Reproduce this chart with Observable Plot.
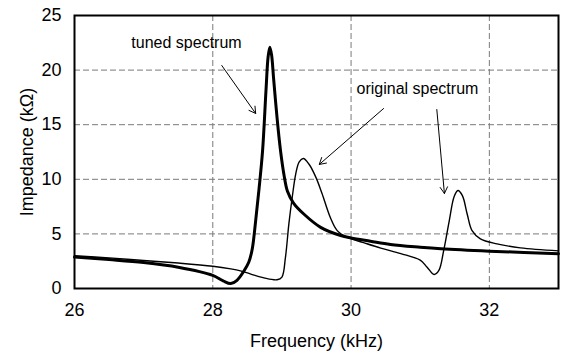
<!DOCTYPE html>
<html>
<head>
<meta charset="utf-8">
<script src="https://cdn.jsdelivr.net/npm/d3@7"></script>
<script src="https://cdn.jsdelivr.net/npm/@observablehq/plot@0.6"></script>
<style>
  html, body { margin: 0; padding: 0; background: #fff; }
  #chart svg { display: block; font-family: "Liberation Sans", Arial, Helvetica, sans-serif; }
</style>
</head>
<body>
<div id="chart"></div>
<script>
// Tuned spectrum (thick line)
const tunedFreq = [26.0, 26.5, 27.0, 27.5, 28.0, 28.15, 28.26, 28.35, 28.45, 28.52, 28.57, 28.62, 28.67, 28.72, 28.77, 28.80, 28.825, 28.85, 28.88, 28.93, 28.98, 29.03, 29.08, 29.17, 29.32, 29.56, 29.85, 30.0, 30.28, 30.57, 31.0, 31.3, 32.0, 32.5, 33.0];
const tunedImp  = [2.88, 2.65, 2.38, 1.95, 1.2, 0.7, 0.45, 0.75, 1.6, 2.4, 3.6, 6.2, 9.2, 12.6, 18.2, 21.2, 22.1, 21.4, 19.2, 15.6, 12.6, 10.4, 8.9, 7.8, 6.8, 5.6, 4.85, 4.63, 4.33, 4.03, 3.78, 3.64, 3.42, 3.3, 3.18];

// Original spectrum (thin line)
const origFreq = [26.0, 26.5, 27.0, 27.5, 28.0, 28.26, 28.4, 28.55, 28.74, 28.93, 29.0, 29.05, 29.1, 29.15, 29.2, 29.25, 29.31, 29.39, 29.49, 29.58, 29.70, 29.80, 29.94, 30.18, 30.43, 30.72, 31.0, 31.1, 31.2, 31.27, 31.34, 31.42, 31.49, 31.545, 31.61, 31.68, 31.75, 31.87, 32.11, 32.45, 33.0];
const origImp  = [3.0, 2.8, 2.56, 2.33, 2.04, 1.8, 1.62, 1.32, 0.97, 0.8, 1.05, 2.8, 5.9, 8.4, 10.5, 11.6, 11.9, 11.4, 10.2, 8.7, 6.5, 5.3, 4.7, 4.2, 3.7, 3.2, 2.6, 1.95, 1.28, 1.65, 3.5, 6.2, 8.4, 8.97, 8.5, 6.8, 5.3, 4.55, 4.09, 3.72, 3.45];

// Axis ticks
const xTicks = [26, 28, 30, 32];
const yTicks = [0, 5, 10, 15, 20, 25];
const xGrid = [28, 30, 32];
const yGrid = [5, 10, 15, 20];

// Annotation labels and arrows (data coordinates)
const labelText = ["tuned spectrum", "original spectrum"];
const labelFreq = [27.62, 30.96];
const labelImp  = [22.53, 18.32];
const arrowX1 = [28.13, 30.47, 31.24];
const arrowY1 = [20.42, 16.48, 16.39];
const arrowX2 = [28.62, 29.54, 31.35];
const arrowY2 = [16.03, 11.36, 8.70];

const tuned = tunedFreq.map((f, i) => ({f, z: tunedImp[i]}));
const orig = origFreq.map((f, i) => ({f, z: origImp[i]}));
const labels = labelText.map((t, i) => ({t, f: labelFreq[i], z: labelImp[i]}));
const arrows = arrowX1.map((x1, i) => ({x1, y1: arrowY1[i], x2: arrowX2[i], y2: arrowY2[i]}));

const chart = Plot.plot({
  width: 561,
  height: 353,
  marginLeft: 74,
  marginRight: 3,
  marginTop: 15,
  marginBottom: 65,
  style: {fontFamily: '"Liberation Sans", Arial, Helvetica, sans-serif', background: "#fff", color: "#000"},
  x: {domain: [26, 33]},
  y: {domain: [0, 25]},
  marks: [
    Plot.ruleX(xGrid, {stroke: "#7a7a7a", strokeWidth: 1, strokeDasharray: "6,3"}),
    Plot.ruleY(yGrid, {stroke: "#7a7a7a", strokeWidth: 1, strokeDasharray: "6,3"}),
    Plot.axisX({ticks: xTicks, tickFormat: "d", tickSize: 0, tickPadding: 15, fontSize: 18, label: "Frequency (kHz)", labelAnchor: "center", labelArrow: "none", labelOffset: 58}),
    Plot.axisY({ticks: yTicks, tickFormat: "d", tickSize: 0, tickPadding: 13, fontSize: 18, label: "Impedance (kΩ)", labelAnchor: "center", labelArrow: "none", labelOffset: 54}),
    Plot.line(orig, {x: "f", y: "z", stroke: "#000", strokeWidth: 1.4, curve: "catmull-rom"}),
    Plot.line(tuned, {x: "f", y: "z", stroke: "#000", strokeWidth: 3, curve: "catmull-rom"}),
    Plot.arrow(arrows, {x1: "x1", y1: "y1", x2: "x2", y2: "y2", stroke: "#000", strokeWidth: 1, headLength: 11, bend: 0}),
    Plot.text(labels, {x: "f", y: "z", text: "t", fontSize: 16, fill: "#000"}),
    Plot.frame({stroke: "#000", strokeWidth: 2})
  ]
});
document.getElementById("chart").appendChild(chart);
</script>
</body>
</html>
